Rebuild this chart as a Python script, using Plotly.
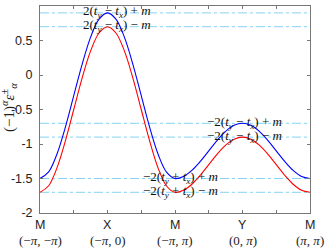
import numpy as np
import plotly.graph_objects as go

# path parameter: M(-pi,-pi) -> X(-pi,0) -> M(-pi,pi) -> Y(0,pi) -> M(pi,pi)
k_path = np.arange(33) * 0.125

band_plus = [-1.5, -1.409, -1.149, -0.759, -0.3, 0.159, 0.549, 0.809, 0.9,
             0.809, 0.549, 0.159, -0.3, -0.759, -1.149, -1.409, -1.5,
             -1.470, -1.383, -1.253, -1.1, -0.947, -0.817, -0.730, -0.7,
             -0.730, -0.817, -0.947, -1.1, -1.253, -1.383, -1.470, -1.5]
band_minus = [-1.7, -1.609, -1.349, -0.959, -0.5, -0.041, 0.349, 0.609, 0.7,
              0.609, 0.349, -0.041, -0.5, -0.959, -1.349, -1.609, -1.7,
              -1.670, -1.583, -1.453, -1.3, -1.147, -1.017, -0.930, -0.9,
              -0.930, -1.017, -1.147, -1.3, -1.453, -1.583, -1.670, -1.7]

ref_levels = [0.9, 0.7, -0.7, -0.9, -1.5, -1.7]
ref_labels = [
    "2(<i>t</i><sub><i>y</i></sub> − <i>t</i><sub><i>x</i></sub>) + <i>m</i>",
    "2(<i>t</i><sub><i>y</i></sub> − <i>t</i><sub><i>x</i></sub>) − <i>m</i>",
    "−2(<i>t</i><sub><i>y</i></sub> − <i>t</i><sub><i>x</i></sub>) + <i>m</i>",
    "−2(<i>t</i><sub><i>y</i></sub> − <i>t</i><sub><i>x</i></sub>) − <i>m</i>",
    "−2(<i>t</i><sub><i>y</i></sub> + <i>t</i><sub><i>x</i></sub>) + <i>m</i>",
    "−2(<i>t</i><sub><i>y</i></sub> + <i>t</i><sub><i>x</i></sub>) − <i>m</i>",
]
ref_label_x = [0.6, 0.6, 2.44, 2.44, 1.5, 1.5]

kpoint_pos = [0, 1, 2, 3, 4]
kpoint_names = ["M", "X", "M", "Y", "M"]
kpoint_coords = ["(−<i>π</i>, −<i>π</i>)", "(−<i>π</i>, 0)", "(−<i>π</i>, <i>π</i>)",
                 "(0, <i>π</i>)", "(<i>π</i>, <i>π</i>)"]
y_ticks = [-2, -1.5, -1, -0.5, 0, 0.5, 1]
y_ticktext = ["-2", "-1.5", "-1", "-0.5", "0", "0.5", "1"]

SERIF = "Liberation Serif"
SANS = "Liberation Sans"

fig = go.Figure()
for lv in ref_levels:
    fig.add_trace(go.Scatter(x=[k_path[0], k_path[-1]], y=[lv, lv], mode="lines",
                             line=dict(color="#86d3f2", width=1, dash="dashdot"),
                             hoverinfo="skip", showlegend=False))
fig.add_trace(go.Scatter(x=k_path, y=band_plus, mode="lines", line_shape="spline",
                         line=dict(color="#0000ff", width=1.1), showlegend=False))
fig.add_trace(go.Scatter(x=k_path, y=band_minus, mode="lines", line_shape="spline",
                         line=dict(color="#ff0000", width=1.1), showlegend=False))

for lv, txt, xx in zip(ref_levels, ref_labels, ref_label_x):
    fig.add_annotation(x=xx, y=lv, text=txt, showarrow=False, xanchor="left",
                       yanchor="middle", yshift=1,
                       font=dict(family=SERIF, size=13, color="#111"))

# k-point labels under the axis
for xp, nm, cc in zip(kpoint_pos, kpoint_names, kpoint_coords):
    fig.add_annotation(x=xp, yref="paper", y=0, text=nm, showarrow=False,
                       xanchor="center", yanchor="middle", yshift=-12,
                       font=dict(family=SANS, size=12.5, color="#222"))
    fig.add_annotation(x=xp, yref="paper", y=0, text=cc, showarrow=False,
                       xanchor="center", yanchor="middle", yshift=-27,
                       font=dict(family=SERIF, size=13, color="#222"))

fig.add_annotation(xref="paper", yref="paper", x=-0.113, y=0.51,
                   text="(−1)<sup><i>α</i></sup><i>ε</i><sup>±</sup><sub><i>α</i></sub>",
                   textangle=-90, showarrow=False, xanchor="center", yanchor="middle",
                   font=dict(family=SERIF, size=15, color="#222"))

x_tickvals = list(np.arange(9) * 0.5)

fig.update_layout(
    width=327, height=248,
    margin=dict(l=40, r=16.5, t=5.5, b=35),
    paper_bgcolor="white", plot_bgcolor="white",
    xaxis=dict(range=[0, 4], tickvals=x_tickvals, showticklabels=False,
               ticks="inside", ticklen=3, tickcolor="#777", showgrid=False,
               zeroline=False, showline=True, linecolor="#777", linewidth=1,
               mirror="ticks"),
    yaxis=dict(range=[-2, 1], tickvals=y_ticks, ticktext=y_ticktext,
               ticks="inside", ticklen=3, tickcolor="#777", showgrid=False,
               zeroline=False, showline=True, linecolor="#777", linewidth=1,
               mirror="ticks", ticklabelstandoff=4,
               tickfont=dict(family=SANS, size=12.5, color="#222")),
)

fig.write_html("out.html", config={"displayModeBar": False},
               post_script="document.body.style.margin='0';document.body.style.overflow='hidden';")
